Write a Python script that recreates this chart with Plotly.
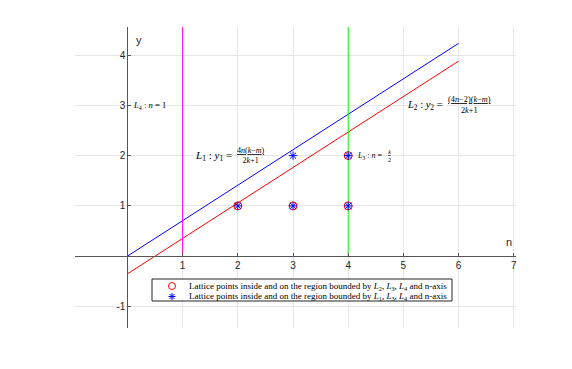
import plotly.graph_objects as go

# ---- data ----
line_n = [0, 6]
y1_vals = [0.0, 4.235]      # L1 : y1 = 4n(k-m)/(2k+1)
y2_vals = [-0.353, 3.882]   # L2 : y2 = (4n-2)(k-m)/(2k+1)
L4_n = [1, 1]
L3_n = [4, 4]
vert_y = [0, 5]

red_n = [2, 3, 4, 4]
red_y = [1, 1, 1, 2]
blue_n = [2, 3, 4, 3, 4]
blue_y = [1, 1, 1, 2, 2]

x_ticks = [1, 2, 3, 4, 5, 6, 7]
y_ticks = [-1, 1, 2, 3, 4]

legend_labels = [
    "Lattice points inside and on the region bounded by <i>L</i><sub>2</sub>, <i>L</i><sub>3</sub>, <i>L</i><sub>4</sub> and n-axis",
    "Lattice points inside and on the region bounded by <i>L</i><sub>1</sub>, <i>L</i><sub>3</sub>, <i>L</i><sub>4</sub> and n-axis",
]

# ---- layout geometry ----
W, H = 572, 369
L, R, T, B = 75, 516, 27, 328
XR = [-0.95, 7.04]
YR = [-1.43, 4.56]

def px(xp):
    return (xp - L) / (R - L)

def py(yp):
    return (B - yp) / (B - T)

SERIF = "Liberation Serif, Times New Roman, serif"
SANS = "Liberation Sans, Arial, Helvetica, sans-serif"

fig = go.Figure()
fig.add_trace(go.Scatter(x=line_n, y=y1_vals, mode="lines",
                         line=dict(color="#0000ff", width=1), showlegend=False))
fig.add_trace(go.Scatter(x=line_n, y=y2_vals, mode="lines",
                         line=dict(color="#ff0000", width=1), showlegend=False))
fig.add_trace(go.Scatter(x=L4_n, y=vert_y, mode="lines",
                         line=dict(color="#ff00ff", width=1), showlegend=False))
fig.add_trace(go.Scatter(x=L3_n, y=vert_y, mode="lines",
                         line=dict(color="#00ff00", width=1), showlegend=False))
fig.add_trace(go.Scatter(x=red_n, y=red_y, mode="markers",
                         marker=dict(symbol="circle-open", size=8, color="#ff0000",
                                     line=dict(width=1, color="#ff0000")),
                         showlegend=False))
fig.add_trace(go.Scatter(x=blue_n, y=blue_y, mode="markers",
                         marker=dict(symbol="asterisk-open", size=7, color="#0000ff",
                                     line=dict(width=1, color="#0000ff")),
                         showlegend=False))

annotations = []
def ann(text, x, y, size, xanchor="left", yanchor="middle", xshift=0, yshift=0,
        family=SERIF, align="left", xref="x", yref="y", color="#000000"):
    annotations.append(dict(text=text, x=x, y=y, xref=xref, yref=yref,
                            xanchor=xanchor, yanchor=yanchor, showarrow=False,
                            xshift=xshift, yshift=yshift, align=align,
                            font=dict(family=family, size=size, color=color)))

# line labels
ann("<i>L</i><sub>4</sub> : <i>n</i> = 1", 0.07, 3, 8.6)
ann("<i>L</i><sub>1</sub> : <i>y</i><sub>1</sub> =", 1.19, 2, 11)
ann("<u>4<i>n</i>(<i>k</i>−<i>m</i>)</u><br>2<i>k</i>+1", 1.19, 2, 8,
    xshift=42, align="center")
ann("<i>L</i><sub>3</sub> : <i>n</i> =", 4.12, 2, 8)
ann("<u><i>k</i></u><br>2", 4.12, 2, 6, xshift=31, align="center")
ann("<i>L</i><sub>2</sub> : <i>y</i><sub>2</sub> =", 5.02, 3, 10.5)
ann("<u>(4<i>n</i>−2)(<i>k</i>−<i>m</i>)</u><br>2<i>k</i>+1", 5.02, 3, 8.3,
    xshift=41, align="center")

# axis titles
ann("y", px(139), py(40), 11, xanchor="center", family=SANS, xref="paper", yref="paper",
    color="#262626")
ann("n", px(509), py(242), 11, xanchor="center", family=SANS, xref="paper", yref="paper",
    color="#262626")

# legend (manual)
ann(legend_labels[0], px(187), py(286), 9.0, xref="paper", yref="paper")
ann(legend_labels[1], px(187), py(296.5), 9.0, xref="paper", yref="paper")

shapes = [
    dict(type="rect", xref="paper", yref="paper", x0=px(152), x1=px(452),
         y0=py(301), y1=py(279), line=dict(color="#262626", width=1),
         fillcolor="white", layer="above"),
    dict(type="circle", xref="paper", yref="paper", xsizemode="pixel", ysizemode="pixel",
         xanchor=px(172), yanchor=py(286), x0=-3.5, x1=3.5, y0=-3.5, y1=3.5,
         line=dict(color="#ff0000", width=1), layer="above"),
    dict(type="path", xref="paper", yref="paper", xsizemode="pixel", ysizemode="pixel",
         xanchor=px(172), yanchor=py(296.5),
         path="M-3.5,0H3.5M0,-3.5V3.5M-2.5,-2.5L2.5,2.5M-2.5,2.5L2.5,-2.5",
         line=dict(color="#0000ff", width=1), layer="above"),
]

fig.update_layout(
    width=W, height=H,
    margin=dict(l=L, r=W - R, t=T, b=H - B, pad=0),
    paper_bgcolor="white", plot_bgcolor="white",
    showlegend=False,
    annotations=annotations,
    shapes=shapes,
    xaxis=dict(range=XR, anchor="free", position=(0 - YR[0]) / (YR[1] - YR[0]),
               tickvals=x_ticks, ticktext=[str(v) for v in x_ticks],
               showgrid=True, gridcolor="#e6e6e6", gridwidth=1,
               zeroline=False, showline=True, linecolor="#555555", linewidth=1,
               ticks="inside", ticklen=3, tickcolor="#555555",
               tickfont=dict(family=SANS, size=10, color="#262626"),
               fixedrange=True),
    yaxis=dict(range=YR, anchor="free", position=(0 - XR[0]) / (XR[1] - XR[0]),
               tickvals=y_ticks, ticktext=[str(v) for v in y_ticks],
               showgrid=True, gridcolor="#e6e6e6", gridwidth=1,
               zeroline=False, showline=True, linecolor="#555555", linewidth=1,
               ticks="inside", ticklen=3, tickcolor="#555555",
               tickfont=dict(family=SANS, size=10, color="#262626"),
               fixedrange=True),
)

fig.write_html("out.html", config={"displayModeBar": False},
               post_script="document.body.style.margin='0px';")
